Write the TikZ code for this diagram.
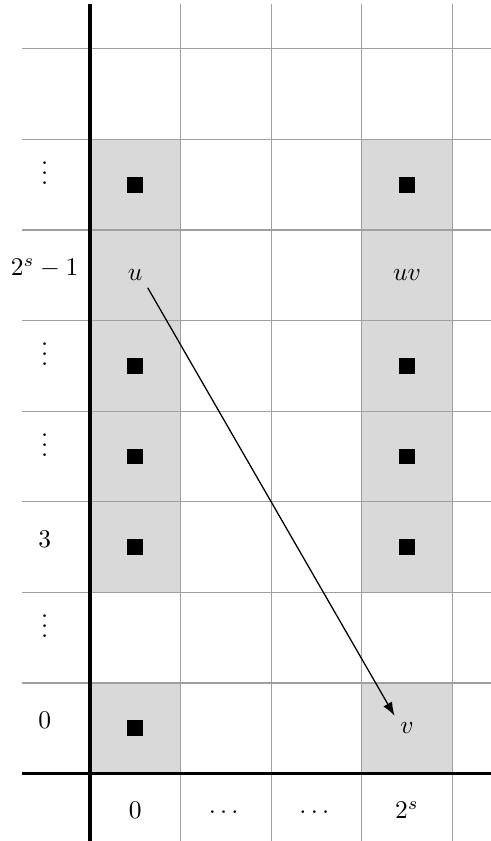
\documentclass[tikz,border=0pt]{standalone}
\usepackage{amsmath,amssymb}
\usepackage{tikz}
\usetikzlibrary{arrows.meta}

\begin{document}
\begin{tikzpicture}[
  gridline/.style={gray!75, line width=0.4pt},
  axisline/.style={line width=1pt},
  cellfill/.style={fill=gray!30},
  lbl/.style={scale=0.8, anchor=base},
  marker/.style={fill=black, minimum size=5pt, inner sep=0pt},
  letter/.style={scale=0.8, minimum size=3.3mm, inner sep=0pt},
  >={Latex[length=1.5mm, width=1.1mm]}
]
\useasboundingbox (-0.993,-0.744) rectangle (4.426,8.539);

% shaded columns 0 and 2^s
\foreach \c in {0,3} {
  \fill[cellfill] (\c,0) rectangle ++(1,1);
  \fill[cellfill] (\c,2) rectangle ++(1,5);
}

% grid
\foreach \y in {1,...,8} \draw[gridline] (-0.75,\y) -- (4.426,\y);
\foreach \x in {1,...,4} \draw[gridline] (\x,-0.75) -- (\x,8.5);

% axes
\draw[axisline] (-0.75,0) -- (4.426,0);
\draw[axisline] (0,-0.75) -- (0,8.5);

% row labels
\node[lbl] (r0) at (-0.5,0.5) {$0$};
\node[lbl] (r1) at (-0.5,1.5) {$\vdots$};
\node[lbl] (r2) at (-0.5,2.5) {$3$};
\node[lbl] (r3) at (-0.5,3.5) {$\vdots$};
\node[lbl] (r4) at (-0.5,4.5) {$\vdots$};
\node[lbl] (r5) at (-0.5,5.5) {$2^s-1$};
\node[lbl] (r6) at (-0.5,6.5) {$\vdots$};

% column labels
\node[lbl] (c0) at (0.5,-0.5) {$0$};
\node[lbl] (c1) at (1.5,-0.5) {$\cdots$};
\node[lbl] (c2) at (2.5,-0.5) {$\cdots$};
\node[lbl] (c3) at (3.5,-0.5) {$2^s$};

% filled markers
\node[marker] (ml0) at (0.5,0.5) {};
\foreach \r in {2,3,4,6} {
  \node[marker] (ml\r) at (0.5,\r+0.5) {};
  \node[marker] (mr\r) at (3.5,\r+0.5) {};
}

% entries
\node[letter] (u)  at (0.5,5.5) {$u$};
\node[letter] (uv) at (3.5,5.5) {$uv$};
\node[letter] (v)  at (3.5,0.5) {$v$};

\draw[->] (u.south east) -- (v.north west);
\end{tikzpicture}
\end{document}
